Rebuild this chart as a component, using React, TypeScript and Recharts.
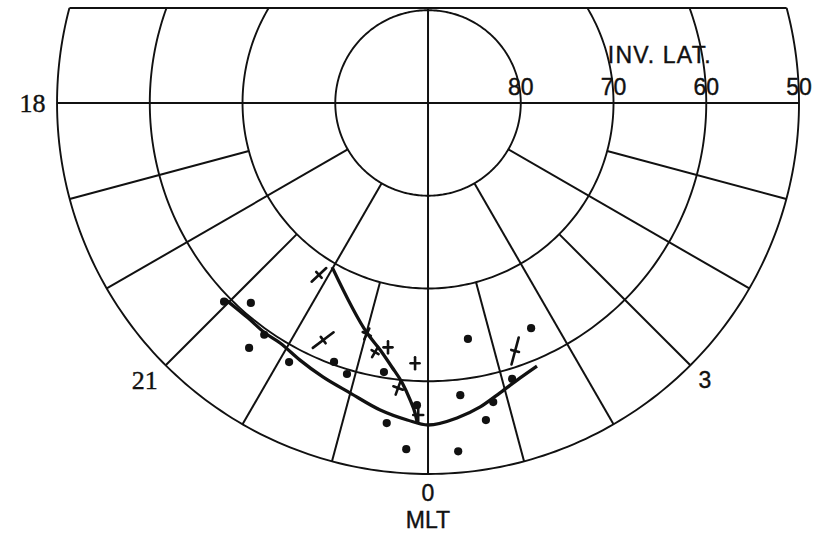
import React from 'react';
import { ComposedChart, XAxis, YAxis, Line, Scatter } from 'recharts';

// ---- data (MLT hours, invariant latitude degrees) ----
const dotMlt = [20.95, 21.23, 21.65, 21.59, 22.12, 22.67, 22.89, 23.38, 23.51, 23.76, 23.86, 0.42, 0.33, 0.64, 1.64, 1.13, 0.82, 0.69];
const dotLat = [59.3, 61.2, 59.4, 57.3, 58.3, 60.3, 59.5, 60.6, 55.2, 52.6, 57.4, 58.3, 52.3, 64.2, 63.3, 58.9, 57.0, 55.25];

const crossMlt = [21.84, 22.41, 23.01, 23.2, 23.38, 23.81, 23.6, 23.88, 1.29];
const crossLat = [68.05, 62.05, 64.24, 62.55, 63.3, 61.9, 59.1, 56.34, 61.66];
const crossTilt = [43, 37, 65, 60, 90, 90, 70, 90, 75];

const fitDotMlt = [20.95, 21.34, 21.64, 21.89, 22.23, 22.6, 23.0, 23.41, 23.75, 0, 0.35, 0.65, 0.93, 1.23, 1.5];
const fitDotLat = [59.58, 59.77, 59.6, 59.6, 59.04, 58.36, 57.62, 56.5, 55.75, 55.28, 55.9, 56.75, 57.8, 58.73, 59.3];

const fitCrossMlt = [21.98, 23.01, 23.27, 23.48, 23.65, 23.77, 23.84, 23.87];
const fitCrossLat = [69.5, 64.34, 62.87, 61.27, 59.68, 57.92, 56.55, 55.59];

const latCircles = [80, 70, 60, 50];
const latTickLabels = ['80', '70', '60', '50'];
const evenHours = [20, 22, 0, 2, 4];
const oddHours = [19, 21, 23, 1, 3, 5];
const mltLabelText = ['18', '21', '0', '3'];
const mltLabelHour = [18, 20.96, 0, 3];
const mltLabelLat = [47.36, 47.26, 47.95, 47.77];

// ---- polar -> cartesian (degrees of colatitude) ----
const toXY = (mlt: number, lat: number) => {
  const th = (((mlt - 18 + 24) % 24) * 15 * Math.PI) / 180;
  const r = 90 - lat;
  return { x: -r * Math.cos(th), y: -r * Math.sin(th) };
};

const FRAME_TOP = 10.24; // colatitude units where the figure is cut
const X_DOMAIN = [-46.15, 41.94];
const Y_DOMAIN = [-46.47, 11.1];
const INK = '#111';

const circleArc = (lat: number) => {
  const R = 90 - lat;
  const pts: { x: number; y: number }[] = [];
  if (R <= FRAME_TOP) {
    for (let a = 0; a <= 360; a += 1) {
      const p = (a * Math.PI) / 180;
      pts.push({ x: R * Math.cos(p), y: R * Math.sin(p) });
    }
    return pts;
  }
  const a0 = (Math.asin(FRAME_TOP / R) * 180) / Math.PI;
  const start = 180 - a0;
  const end = 360 + a0;
  for (let a = start; a < end; a += 1) {
    const p = (a * Math.PI) / 180;
    pts.push({ x: R * Math.cos(p), y: R * Math.sin(p) });
  }
  const pe = (end * Math.PI) / 180;
  pts.push({ x: R * Math.cos(pe), y: R * Math.sin(pe) });
  return pts;
};

const outerR = 90 - latCircles[latCircles.length - 1];
const chordHalf = Math.sqrt(outerR * outerR - FRAME_TOP * FRAME_TOP);

const gridSegments: { x: number; y: number }[][] = [
  [toXY(18, 50), toXY(6, 50)],
  [{ x: 0, y: FRAME_TOP }, toXY(0, 50)],
  [{ x: -chordHalf, y: FRAME_TOP }, { x: chordHalf, y: FRAME_TOP }],
  ...evenHours.filter((h) => h !== 0).map((h) => [toXY(h, 80), toXY(h, 50)]),
  ...oddHours.map((h) => [toXY(h, 70), toXY(h, 50)]),
];

const dots = dotMlt.map((m, i) => toXY(m, dotLat[i]));
const crosses = crossMlt.map((m, i) => ({ ...toXY(m, crossLat[i]), idx: i }));
const fitDots = fitDotMlt.map((m, i) => toXY(m, fitDotLat[i]));
const fitCrosses = fitCrossMlt.map((m, i) => toXY(m, fitCrossLat[i]));

const mltLabels = mltLabelText.map((t, i) => ({ ...toXY(mltLabelHour[i], mltLabelLat[i]), text: t }));
const titleMlt = [{ ...toXY(0, 45.04), text: 'MLT' }];
const latLabels = latCircles.map((l, i) => ({ ...toXY(6, l), text: latTickLabels[i] }));
const latTitle = [{ ...toXY(6, 65), text: 'INV. LAT.' }];

const crossArm = [20, 26, 12, 12, 12, 12, 14, 14, 28];
const crossTick = [8, 8, 9, 8, 9, 9, 10, 10, 8];

const DotShape = (p: any) => <circle cx={p.cx} cy={p.cy} r={4.1} fill={INK} />;

const CrossShape = (p: any) => {
  const i = p.payload.idx;
  const t = (crossTilt[i] * Math.PI) / 180;
  const L = crossArm[i] / 2;
  const S = crossTick[i] / 2;
  const ux = Math.cos(t), uy = -Math.sin(t);
  const vx = -uy, vy = ux;
  return (
    <g stroke={INK} strokeWidth={2.6} strokeLinecap="round">
      <line x1={p.cx - ux * L} y1={p.cy - uy * L} x2={p.cx + ux * L} y2={p.cy + uy * L} />
      <line x1={p.cx - vx * S} y1={p.cy - vy * S} x2={p.cx + vx * S} y2={p.cy + vy * S} />
    </g>
  );
};

const SANS = '"Liberation Sans", Arial, Helvetica, sans-serif';
const SERIF = '"Liberation Serif", "Times New Roman", serif';

const MltLabelShape = (p: any) => {
  const serif = p.payload.text === '18' || p.payload.text === '21';
  const fs = serif ? 26 : 23;
  return (
    <text x={p.cx} y={p.cy + fs * 0.35} textAnchor="middle" fontFamily={serif ? SERIF : SANS} fontSize={fs}
      fill={INK} stroke={INK} strokeWidth={0.4}>
      {p.payload.text}
    </text>
  );
};

const TitleShape = (p: any) => (
  <text x={p.cx} y={p.cy + 8} textAnchor="middle" fontFamily={SANS} fontSize={23} fill={INK} stroke={INK} strokeWidth={0.4}>
    {p.payload.text}
  </text>
);

const LatLabelShape = (p: any) => (
  <text x={p.cx} y={p.cy - 8} textAnchor="middle" fontFamily={SANS} fontSize={23} fill={INK} stroke={INK} strokeWidth={0.4}>
    {p.payload.text}
  </text>
);

const LatTitleShape = (p: any) => (
  <text x={p.cx} y={p.cy - 40} textAnchor="middle" fontFamily={SANS} fontSize={23} letterSpacing={1.2}
    fill={INK} stroke={INK} strokeWidth={0.4}>
    {p.payload.text}
  </text>
);

export default function App() {
  return (
    <div style={{ position: 'absolute', left: 0, top: 0, width: 817, height: 534, background: '#fff' }}>
      <ComposedChart width={817} height={534} margin={{ top: 0, right: 0, bottom: 0, left: 0 }}>
        <XAxis type="number" dataKey="x" domain={X_DOMAIN} allowDataOverflow hide />
        <YAxis type="number" dataKey="y" domain={Y_DOMAIN} allowDataOverflow hide />
        {latCircles.map((l) => (
          <Line key={'c' + l} data={circleArc(l)} dataKey="y" type="linear" dot={false} activeDot={false}
            stroke={INK} strokeWidth={1.9} isAnimationActive={false} />
        ))}
        {gridSegments.map((seg, i) => (
          <Line key={'g' + i} data={seg} dataKey="y" type="linear" dot={false} activeDot={false}
            stroke={INK} strokeWidth={2} isAnimationActive={false} />
        ))}
        <Line data={fitDots} dataKey="y" type="monotone" dot={false} activeDot={false}
          stroke={INK} strokeWidth={3.3} isAnimationActive={false} />
        <Line data={fitCrosses} dataKey="y" type="monotone" dot={false} activeDot={false}
          stroke={INK} strokeWidth={3.3} isAnimationActive={false} />
        <Scatter data={dots} shape={DotShape} isAnimationActive={false} />
        <Scatter data={crosses} shape={CrossShape} isAnimationActive={false} />
        <Scatter data={mltLabels} shape={MltLabelShape} isAnimationActive={false} />
        <Scatter data={titleMlt} shape={TitleShape} isAnimationActive={false} />
        <Scatter data={latLabels} shape={LatLabelShape} isAnimationActive={false} />
        <Scatter data={latTitle} shape={LatTitleShape} isAnimationActive={false} />
      </ComposedChart>
    </div>
  );
}
